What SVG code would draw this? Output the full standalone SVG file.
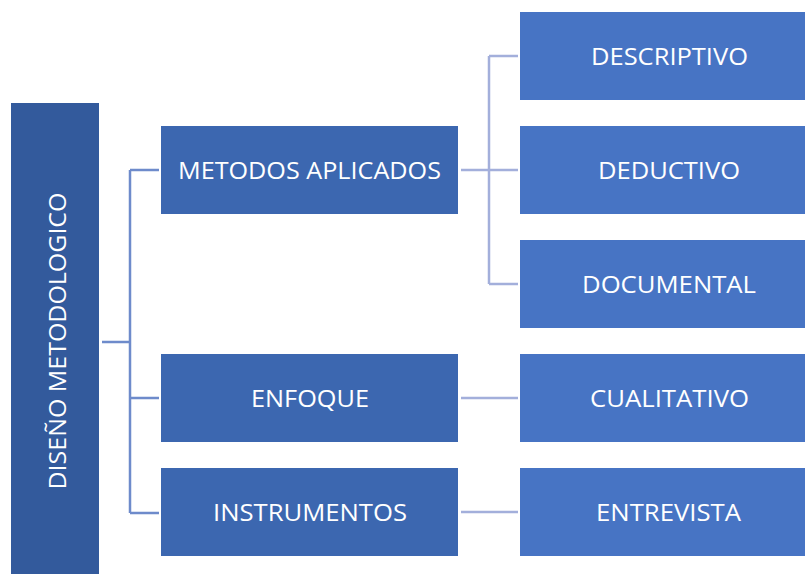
<svg xmlns="http://www.w3.org/2000/svg" width="805" height="574" viewBox="0 0 805 574">
<style>
.t{font-family:"Open Sans","Liberation Sans",sans-serif;font-size:24px;fill:#ffffff;text-anchor:middle}
.mid{fill:#3C67B0}
.right{fill:#4774C4}
.c1{stroke:#6E8BCB;stroke-width:2.5;fill:none}
.c2{stroke:#A3AFDB;stroke-width:2.5;fill:none}
</style>
<rect width="805" height="574" fill="#ffffff"/>
<g id="connectors">
<path class="c1" d="M102 342H130M130 170V513M130 170H159M130 398H159M130 513H159"/>
<path class="c2" d="M461 170H518M489 56V284M489 56H518M489 284H518M461 398H518M461 512H518"/>
</g>
<g id="diseno">
<rect x="11" y="103" width="88" height="480" fill="#335A9C"/>
<text class="t" transform="translate(66 341) rotate(-90)" textLength="297" lengthAdjust="spacingAndGlyphs">DISEÑO METODOLOGICO</text>
</g>
<g id="metodos">
<rect class="mid" x="161" y="126" width="297" height="88"/>
<text class="t" x="309.5" y="179" textLength="263" lengthAdjust="spacingAndGlyphs">METODOS APLICADOS</text>
</g>
<g id="enfoque">
<rect class="mid" x="161" y="354" width="297" height="88"/>
<text class="t" x="310" y="407" textLength="118" lengthAdjust="spacingAndGlyphs">ENFOQUE</text>
</g>
<g id="instrumentos">
<rect class="mid" x="161" y="468" width="297" height="88"/>
<text class="t" x="310" y="521" textLength="194" lengthAdjust="spacingAndGlyphs">INSTRUMENTOS</text>
</g>
<g id="descriptivo">
<rect class="right" x="520" y="12" width="300" height="88"/>
<text class="t" x="669.5" y="65" textLength="157" lengthAdjust="spacingAndGlyphs">DESCRIPTIVO</text>
</g>
<g id="deductivo">
<rect class="right" x="520" y="126" width="300" height="88"/>
<text class="t" x="669" y="179" textLength="142" lengthAdjust="spacingAndGlyphs">DEDUCTIVO</text>
</g>
<g id="documental">
<rect class="right" x="520" y="240" width="300" height="88"/>
<text class="t" x="669" y="293" textLength="174" lengthAdjust="spacingAndGlyphs">DOCUMENTAL</text>
</g>
<g id="cualitativo">
<rect class="right" x="520" y="354" width="300" height="88"/>
<text class="t" x="669.5" y="407" textLength="159" lengthAdjust="spacingAndGlyphs">CUALITATIVO</text>
</g>
<g id="entrevista">
<rect class="right" x="520" y="468" width="300" height="88"/>
<text class="t" x="668.5" y="521" textLength="145" lengthAdjust="spacingAndGlyphs">ENTREVISTA</text>
</g>
</svg>
